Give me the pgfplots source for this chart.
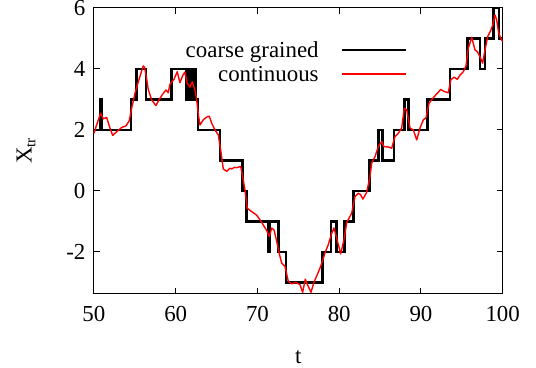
\documentclass[border=0pt]{standalone}
\usepackage{pgfplots}
\pgfplotsset{compat=1.18}
\usepackage{fontspec}
\setmainfont{Liberation Serif}

% coarse-grained trajectory: switching times and the new level
\pgfplotstableread{
t     x
50.00 2
50.75 3
50.95 2
54.53 3
55.22 4
56.36 3
59.50 4
61.30 3
61.42 4
61.52 3
61.62 4
61.72 3
61.82 4
61.92 3
62.05 4
62.18 3
62.30 4
62.45 3
62.70 2
65.41 1
68.19 0
68.68 -1
71.33 -2
71.53 -1
72.55 -2
73.49 -3
77.98 -2
78.99 -1
79.69 -2
80.62 -1
81.73 0
83.68 1
84.78 2
85.32 1
86.70 2
87.96 3
88.45 2
90.78 3
93.55 4
95.72 5
97.22 4
97.83 5
98.85 6
99.55 5
100.00 5
}\coarse

% continuous trajectory
\pgfplotstableread{
t     x
50.00 1.89
50.40 2.22
50.82 2.55
51.14 2.36
51.55 2.41
51.87 2.13
52.29 1.82
52.78 1.94
53.39 2.08
53.91 2.13
54.32 2.30
54.61 2.71
55.02 3.20
55.54 3.68
56.03 4.10
56.20 4.05
56.40 3.75
56.64 3.33
57.06 2.98
57.58 2.80
57.95 2.98
58.40 3.17
58.81 3.31
59.09 3.22
59.30 3.50
59.79 3.66
60.19 3.91
60.52 3.55
60.85 3.78
61.13 3.90
61.41 3.53
61.74 3.40
62.03 3.58
62.36 3.30
62.56 3.00
62.80 2.45
62.97 2.16
63.37 2.33
63.79 2.42
64.11 2.45
64.40 2.22
64.80 2.00
65.21 1.84
65.50 1.34
65.82 0.72
66.23 0.64
66.64 0.74
66.85 0.72
67.20 0.77
67.46 0.76
67.95 0.80
68.19 0.47
68.47 0.03
68.75 -0.57
69.29 -0.68
69.60 -0.74
69.90 -0.80
70.31 -0.95
70.71 -1.12
71.13 -1.30
71.45 -1.50
71.74 -1.22
72.02 -1.28
72.35 -1.65
72.67 -2.06
72.96 -2.37
73.37 -2.48
73.77 -2.97
74.19 -3.05
74.71 -3.00
75.20 -3.08
75.53 -3.33
75.85 -2.90
76.22 -3.14
76.55 -3.33
76.91 -3.00
77.32 -2.75
77.73 -2.48
78.26 -2.04
78.66 -1.77
79.08 -1.39
79.36 -1.22
79.69 -1.55
80.18 -2.07
80.58 -1.61
80.92 -1.04
81.53 -0.73
81.93 -0.19
82.33 -0.08
82.60 -0.12
82.90 -0.27
83.36 -0.05
83.77 0.47
83.97 0.91
84.38 1.12
84.78 1.45
85.20 1.62
85.48 1.45
86.00 1.44
86.42 1.40
86.82 1.78
87.23 1.89
87.64 2.06
87.96 2.71
88.26 2.66
88.66 2.06
89.06 2.00
89.48 1.67
89.88 2.06
90.29 2.33
90.62 2.40
90.98 2.87
91.51 3.06
92.00 3.20
92.42 3.33
92.82 3.26
93.35 3.22
93.64 3.64
94.04 3.73
94.45 3.66
94.78 3.80
95.18 3.91
95.51 4.10
95.79 4.68
96.21 5.04
96.61 4.62
96.89 4.57
97.22 4.40
97.55 4.19
97.83 4.62
98.16 5.06
98.53 5.26
98.78 5.44
99.06 5.77
99.27 5.60
99.51 5.17
99.83 4.97
100.00 4.90
}\continuous

\begin{document}
\begin{tikzpicture}
\begin{axis}[
  scale only axis,
  width=409bp, height=286bp,
  xmin=50, xmax=100, ymin=-3.38, ymax=6,
  xtick={50,60,70,80,90,100},
  xticklabels={50,60,70,80,90,100},
  ytick={-2,0,2,4,6},
  yticklabels={-2,0,2,4,6},
  major tick length=6bp,
  axis line style={line width=1bp},
  every tick/.style={black, line width=1bp},
  tick label style={font=\fontsize{23}{26}\selectfont},
  xticklabel style={yshift=-9bp},
  yticklabel style={xshift=-5bp},
  label style={font=\fontsize{23}{26}\selectfont},
  xlabel={t},
  xlabel style={at={(axis description cs:0.5,-0.22)}, anchor=center},
  ylabel={X\raisebox{-0.35ex}{\fontsize{15}{15}\selectfont tr}},
  ylabel style={at={(axis description cs:-0.166,0.5)}, anchor=center},
  clip=false,
]
\addplot[const plot, black, line width=2.5bp] table[x=t, y=x] {\coarse};
\addplot[red, line width=1.4bp, line join=round] table[x=t, y=x] {\continuous};
% key: right-aligned entry text followed by a sample line
\node[anchor=base east, inner sep=0pt, font=\fontsize{23}{26}\selectfont]
  at (axis description cs:0.5501,0.8262) {coarse grained};
\node[anchor=base east, inner sep=0pt, font=\fontsize{23}{26}\selectfont]
  at (axis description cs:0.5501,0.7423) {continuous};
\draw[black, line width=2.5bp] (axis description cs:0.6064,0.8531)
  -- (axis description cs:0.7628,0.8531);
\draw[red, line width=1.4bp] (axis description cs:0.6064,0.7692)
  -- (axis description cs:0.7628,0.7692);
\end{axis}
\pgfresetboundingbox
\useasboundingbox ([xshift=-94bp,yshift=-74bp]current axis.south west)
  rectangle ([xshift=33.3bp,yshift=8bp]current axis.north east);
\end{tikzpicture}
\end{document}
